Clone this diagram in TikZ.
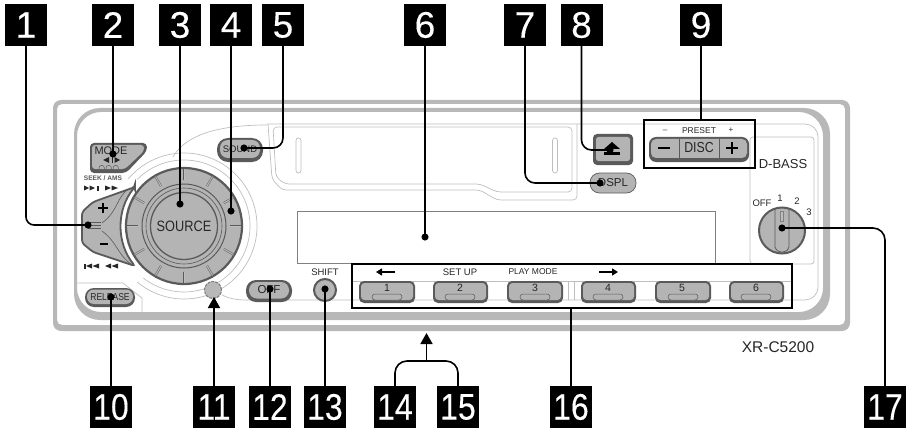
\documentclass[tikz,border=0pt]{standalone}
\usepackage{fontspec}
\setmainfont{Liberation Sans}
\newfontfamily\numfam[FakeBold=0.25]{Liberation Sans}
\newfontfamily\numnarrowfam[FakeBold=0.25,FakeStretch=0.86]{Liberation Sans}
\newfontfamily\narrowfam[FakeStretch=0.85]{Liberation Sans}
\usetikzlibrary{arrows.meta}
\newcommand{\fs}[1]{\fontsize{#1}{#1}\selectfont}
\definecolor{facegray}{HTML}{B4B4B4}
\definecolor{rimgray}{HTML}{5A5A5A}
\definecolor{stripgray}{HTML}{B8B8B8}
\definecolor{thingray}{HTML}{BEBEBE}
\definecolor{inkgray}{HTML}{262626}
\tikzset{
  numbox/.style={fill=black, text=white, minimum size=42pt, inner sep=0pt, font=\numfam\fs{37}},
  numwide/.style={numbox, font=\numnarrowfam\fs{37}},
  lab/.style={inner sep=0pt, text=inkgray},
  framebox/.style={draw=black, line width=1.6pt, inner sep=0pt},
  leader/.style={draw=black, line width=1.6pt},
  dotted end/.style={leader, -{Circle[length=7pt]}, shorten >=-3.5pt},
  tip end/.style={leader, -{Triangle[length=11pt,width=12pt]}},
  thin line/.style={draw=thingray, line width=0.7pt},
  rim/.style={fill=rimgray},
  face/.style={fill=facegray},
  outlined/.style={fill=facegray, draw=rimgray, line width=1.8pt},
  notch/.style={draw=rimgray, line width=0.5pt, double=thingray, double distance=1pt},
  sym/.style={fill=inkgray}
}

\begin{document}
\begin{tikzpicture}[x=1pt, y=1pt]

   \useasboundingbox (0,0) rectangle (909,429);
   \coordinate (dial) at (184,203);
   \coordinate (knob) at (782,198.5);

   % housing
   \fill[stripgray, even odd rule] [rounded corners=8pt] (53,98) rectangle (850,329) [rounded corners=5pt] (57,104) rectangle (845,325);
   \fill[stripgray, even odd rule] [rounded corners=26pt] (74,109) rectangle (830,321) [rounded corners=24pt] (77,117) rectangle (823,317);

   % thin lines of the face
   \draw[thin line] (267,305) -- (805,305) arc[start angle=90, end angle=0, radius=13pt] -- (818,142) arc[start angle=0, end angle=-90, radius=13pt] -- (247,129) .. controls (235,129) and (228,131) .. (222,134);
   \draw[thin line] (173,272) .. controls (182,288) and (205,304) .. (267,304);
   \draw[thin line] ([shift={(140:73pt)}]dial) arc[start angle=140, end angle=-130, radius=73pt];
   \draw[thin line] ([shift={(135:66pt)}]dial) arc[start angle=135, end angle=-128, radius=66pt];
   \draw[thin line] (75,146) -- (123,146) -- (142,131) -- (142,117);
   \draw[thin line] (352,148) -- (792,148);
   \draw[thin line] (568,129) -- (568,148);
   \draw[thin line] (574,129) -- (574,148);
   \draw[thin line, rounded corners=3pt] (750,165) rectangle (814,292);

   % cassette door
   \draw[thin line, rounded corners=4pt] (268,305) -- (272,250) -- (282,239) -- (480,239) -- (497,229) -- (577,229) -- (577,305);
   \draw[thin line, rounded corners=4pt] (273,302) -- (572,302) -- (572,237) -- (497,237) -- (480,245) -- (285,245) -- (276,252) -- cycle;
   \draw[thin line, rounded corners=2.5pt] (296,256) rectangle (301,291);
   \draw[thin line, rounded corners=2.5pt] (552.5,256) rectangle (557.5,291);

   % display
   \draw[draw=gray, line width=0.8pt] (297,166) rectangle (715,218);

   % seek lever
   \draw[outlined, rounded corners=3pt] (135,242) -- (93,227) -- (82,217) -- (82,186) -- (93,177) -- (135,163) arc[start angle=219, end angle=141, radius=63pt] -- cycle;
   \draw[draw=rimgray, line width=0.6pt] (128,240) .. controls (116,230) and (118,218) .. (102,206);
   \draw[draw=rimgray, line width=0.6pt] (102,198) .. controls (118,186) and (116,176) .. (132,164);
   \draw[draw=rimgray, line width=0.5pt] (88,207) -- (101,207);
   \draw[draw=rimgray, line width=0.5pt] (88,204) -- (101,204);
   \draw[draw=rimgray, line width=0.5pt] (88,201) -- (101,201);
   \draw[black, line width=1.7pt] (98,221) -- (108,221);
   \draw[black, line width=1.7pt] (103,216) -- (103,226);
   \draw[black, line width=1.9pt] (100,185) -- (108,185);

   % main dial
   \draw[fill=facegray, draw=rimgray, line width=2.2pt] (dial) circle[radius=58pt];
   \draw[notch] ([shift={(0:46pt)}]dial) -- ([shift={(0:57pt)}]dial);
   \draw[notch] ([shift={(30:46pt)}]dial) -- ([shift={(30:57pt)}]dial);
   \draw[notch] ([shift={(60:46pt)}]dial) -- ([shift={(60:57pt)}]dial);
   \draw[notch] ([shift={(90:46pt)}]dial) -- ([shift={(90:57pt)}]dial);
   \draw[notch] ([shift={(120:46pt)}]dial) -- ([shift={(120:57pt)}]dial);
   \draw[notch] ([shift={(150:46pt)}]dial) -- ([shift={(150:57pt)}]dial);
   \draw[notch] ([shift={(180:46pt)}]dial) -- ([shift={(180:57pt)}]dial);
   \draw[notch] ([shift={(210:46pt)}]dial) -- ([shift={(210:57pt)}]dial);
   \draw[notch] ([shift={(240:46pt)}]dial) -- ([shift={(240:57pt)}]dial);
   \draw[notch] ([shift={(270:46pt)}]dial) -- ([shift={(270:57pt)}]dial);
   \draw[notch] ([shift={(300:46pt)}]dial) -- ([shift={(300:57pt)}]dial);
   \draw[notch] ([shift={(330:46pt)}]dial) -- ([shift={(330:57pt)}]dial);
   \draw[draw=rimgray, line width=1pt] (dial) circle[radius=42pt];
   \draw[draw=rimgray, line width=0.6pt] (dial) circle[radius=38pt];
   \draw[fill=facegray, draw=rimgray, line width=1.3pt] (dial) circle[radius=33.5pt];
   \node[lab, font=\narrowfam\fs{15}] (tSource) at (dial) {SOURCE};

   % small buttons
   \fill[rim, rounded corners=4pt] (90,286) -- (147,286) -- (147,278) -- (126,256) -- (90,256) -- cycle;
   \fill[face, rounded corners=3pt] (92,284) -- (144,284) -- (144,278) -- (125,260) -- (92,260) -- cycle;
   \node[lab, font=\fs{11}] (tMode) at (111,278) {MODE};
   \fill[sym] (103,269) -- (109,272) -- (109,266) -- cycle;
   \fill[sym] (111.5,266) rectangle (113,272);
   \fill[sym] (120,269) -- (114.5,272) -- (114.5,266) -- cycle;
   \draw[draw=rimgray, line width=0.5pt] (99,257) -- (99,261) arc[start angle=180, end angle=0, radius=2.7pt] -- (104.4,257);
   \draw[draw=rimgray, line width=0.5pt] (106,257) -- (106,261) arc[start angle=180, end angle=0, radius=2.7pt] -- (111.4,257);
   \draw[draw=rimgray, line width=0.5pt] (113,257) -- (113,261) arc[start angle=180, end angle=0, radius=2.7pt] -- (118.4,257);

   \node[lab, font=\bfseries\fs{6.6}, text=rimgray] (tSeek) at (103,251) {SEEK / AMS};
   \fill[sym] (84,243.5) -- (89,241) -- (84,238.5) -- cycle;
   \fill[sym] (89.5,243.5) -- (95,241) -- (89.5,238.5) -- cycle;
   \fill[sym] (97,238.5) rectangle (98.5,243.5);
   \fill[sym] (105,243.5) -- (111,241) -- (105,238.5) -- cycle;
   \fill[sym] (111.5,243.5) -- (118,241) -- (111.5,238.5) -- cycle;
   \fill[sym] (84,160.5) rectangle (85.5,165.5);
   \fill[sym] (86,163) -- (92,165.5) -- (92,160.5) -- cycle;
   \fill[sym] (92.5,163) -- (99,165.5) -- (99,160.5) -- cycle;
   \fill[sym] (105,163) -- (111,165.5) -- (111,160.5) -- cycle;
   \fill[sym] (111.5,163) -- (118,165.5) -- (118,160.5) -- cycle;

   \fill[rim, rounded corners=11pt] (217,267) rectangle (263,291);
   \fill[face, rounded corners=8pt] (220,271) rectangle (260,289);
   \node[lab, font=\fs{9.5}] (tSound) at (240,280) {SOUND};

   \draw[fill=facegray, draw=rimgray, line width=0.7pt, rounded corners=9.5pt] (590,236) rectangle (636,256);
   \node[lab, font=\fs{11.5}] (tDspl) at (613,246) {DSPL};

   \fill[rim, rounded corners=4pt] (593,264) rectangle (633,295);
   \fill[face, rounded corners=2.5pt] (596,268) rectangle (630,292);
   \fill[black] (612,287) -- (620,280) -- (604,280) -- cycle;
   \fill[black] (604,274) rectangle (620,277);

   \fill[rim, rounded corners=7pt] (649,267) rectangle (749,292);
   \fill[face, rounded corners=5pt] (651,271) rectangle (747,290);
   \draw[draw=rimgray, line width=0.5pt] (679,271) -- (679,290);
   \draw[draw=rimgray, line width=0.5pt] (719,271) -- (719,290);
   \node[lab, font=\narrowfam\fs{14.5}] (tDisc) at (699,281) {DISC};
   \draw[black, line width=1.7pt] (658,281) -- (670,281);
   \draw[black, line width=1.7pt] (726,281) -- (738,281);
   \draw[black, line width=1.7pt] (732,275) -- (732,287);
   \node[lab, font=\fs{8}] (tMinus) at (665,298) {–};
   \node[lab, font=\fs{8.5}] (tPreset) at (699,298) {PRESET};
   \node[lab, font=\fs{8}] (tPlus) at (731,299) {+};

   \node[lab, font=\fs{13}] (tBass) at (783,265) {D-BASS};
   \node[lab, font=\fs{9.5}] (tOff) at (762,226) {OFF};
   \node[lab, font=\fs{9.5}] (tOne) at (780,231) {1};
   \node[lab, font=\fs{9.5}] (tTwo) at (797,228) {2};
   \node[lab, font=\fs{9.5}] (tThree) at (809,217) {3};
   \draw[fill=facegray, draw=rimgray, line width=2pt] (knob) circle[radius=23pt];
   \draw[draw=rimgray, line width=0.8pt] (775,220) -- (775,182) .. controls (777,175) and (787,175) .. (789,182) -- (789,220);
   \draw[fill=thingray, draw=gray, line width=0.4pt] (780.5,208) rectangle (783.5,218);

   \fill[rim, rounded corners=9pt] (85,122) rectangle (135,141);
   \fill[face, rounded corners=7pt] (87,125) rectangle (133,139.5);
   \node[lab, font=\narrowfam\fs{10}] (tRelease) at (110,132) {RELEASE};

   \draw[fill=stripgray, draw=gray, line width=1.1pt, dash pattern=on 3pt off 1pt] (213,139) circle[radius=8.5pt];

   \fill[rim, rounded corners=10pt] (246,127) rectangle (292,149);
   \fill[face, rounded corners=8pt] (249,130.5) rectangle (289,147);
   \node[lab, font=\fs{11.5}] (tOffBtn) at (269,139) {OFF};

   \node[lab, font=\fs{9.5}] (tShift) at (325,157) {SHIFT};
   \draw[fill=facegray, draw=rimgray, line width=2pt] (325,139) circle[radius=11pt];
   \draw[draw=thingray, line width=0.6pt] (325,139) circle[radius=7.5pt];

   % number row
   \fill[rim, rounded corners=5pt] (359,126) rectangle (415,148);
   \fill[face, rounded corners=3.5pt] (361,129) rectangle (413,146);
   \draw[face, draw=rimgray, line width=0.5pt, rounded corners=3pt] (372,129) rectangle (402,135);
   \node[lab, font=\fs{10.5}] (tOneBtn) at (387,141) {1};
   \fill[rim, rounded corners=5pt] (433,126) rectangle (488,148);
   \fill[face, rounded corners=3.5pt] (435,129) rectangle (486,146);
   \draw[face, draw=rimgray, line width=0.5pt, rounded corners=3pt] (445,129) rectangle (475,135);
   \node[lab, font=\fs{10.5}] (tTwoBtn) at (460,141) {2};
   \fill[rim, rounded corners=5pt] (507,126) rectangle (563,148);
   \fill[face, rounded corners=3.5pt] (509,129) rectangle (561,146);
   \draw[face, draw=rimgray, line width=0.5pt, rounded corners=3pt] (520,129) rectangle (550,135);
   \node[lab, font=\fs{10.5}] (tThreeBtn) at (535,141) {3};
   \fill[rim, rounded corners=5pt] (581,126) rectangle (636,148);
   \fill[face, rounded corners=3.5pt] (583,129) rectangle (634,146);
   \draw[face, draw=rimgray, line width=0.5pt, rounded corners=3pt] (593,129) rectangle (623,135);
   \node[lab, font=\fs{10.5}] (tFourBtn) at (608,141) {4};
   \fill[rim, rounded corners=5pt] (655,126) rectangle (711,148);
   \fill[face, rounded corners=3.5pt] (657,129) rectangle (709,146);
   \draw[face, draw=rimgray, line width=0.5pt, rounded corners=3pt] (668,129) rectangle (698,135);
   \node[lab, font=\fs{10.5}] (tFiveBtn) at (682,141) {5};
   \fill[rim, rounded corners=5pt] (729,126) rectangle (784,148);
   \fill[face, rounded corners=3.5pt] (731,129) rectangle (782,146);
   \draw[face, draw=rimgray, line width=0.5pt, rounded corners=3pt] (741,129) rectangle (771,135);
   \node[lab, font=\fs{10.5}] (tSixBtn) at (756,141) {6};

   \node[lab, font=\fs{9.5}] (tSetup) at (460,157) {SET UP};
   \node[lab, font=\fs{8.5}] (tPlay) at (533,157) {PLAY MODE};
   \draw[black, line width=1.3pt, -{Triangle[length=6pt,width=7pt]}] (395,157) -- (376,157);
   \draw[black, line width=1.3pt, -{Triangle[length=6pt,width=7pt]}] (599,157) -- (618,157);
   \node[lab, font=\fs{15.5}] (tModel) at (778,82) {XR-C5200};

   % frames and callouts
   \node[framebox, minimum width=111pt, minimum height=48pt] (fr9) at (699.5,285) {};
   \node[framebox, minimum width=440pt, minimum height=44pt] (fr16) at (572,143) {};

   \node[numbox] (n1) at (26,404) {1};
   \node[numbox] (n2) at (113,404) {2};
   \node[numbox] (n3) at (180,404) {3};
   \node[numbox] (n4) at (231,404) {4};
   \node[numbox] (n5) at (283,404) {5};
   \node[numbox] (n6) at (425,404) {6};
   \node[numbox] (n7) at (525,404) {7};
   \node[numbox] (n8) at (581.5,404) {8};
   \node[numbox] (n9) at (701,404) {9};
   \node[numwide] (n10) at (111,22) {10};
   \node[numwide] (n11) at (214,22) {11};
   \node[numwide] (n12) at (270,22) {12};
   \node[numwide] (n13) at (325,22) {13};
   \node[numwide] (n14) at (395,22) {14};
   \node[numwide] (n15) at (458,22) {15};
   \node[numwide] (n16) at (571,22) {16};
   \node[numwide] (n17) at (885,22) {17};

   \coordinate (d1) at (88,204);
   \coordinate (d2) at (113,275);
   \coordinate (d3) at (180,225);
   \coordinate (d4) at (231,218);
   \coordinate (d5) at (244,281);
   \coordinate (d6) at (425,192);
   \coordinate (d7) at (600,246);
   \coordinate (d8) at (610,279);
   \coordinate (d10) at (111,132);
   \coordinate (d11) at (214,132);
   \coordinate (d12) at (270,140);
   \coordinate (d13) at (325,140);
   \coordinate (d14) at (426.5,96);
   \coordinate (j14) at (426.5,68);
   \coordinate (d17) at (782,201);

   \draw[dotted end, rounded corners=8pt] (n1) |- (d1);
   \draw[dotted end] (n2) -- (d2);
   \draw[dotted end] (n3) -- (d3);
   \draw[dotted end] (n4) -- (d4);
   \draw[dotted end, rounded corners=10pt] (n5) |- (d5);
   \draw[dotted end] (n6) -- (d6);
   \draw[dotted end, rounded corners=10pt] (n7) |- (d7);
   \draw[dotted end, rounded corners=10pt] (n8) |- (d8);
   \draw[leader] (n9) -- (n9 |- fr9.north);
   \draw[dotted end] (n10) -- (d10);
   \draw[tip end] (n11) -- (d11);
   \draw[dotted end] (n12) -- (d12);
   \draw[dotted end] (n13) -- (d13);
   \draw[leader, rounded corners=12pt] (n14) |- (j14) -| (n15);
   \draw[tip end] (j14) -- (d14);
   \draw[leader] (n16) -- (n16 |- fr16.south);
   \draw[dotted end, rounded corners=12pt] (n17) |- (d17);

\end{tikzpicture}
\end{document}
